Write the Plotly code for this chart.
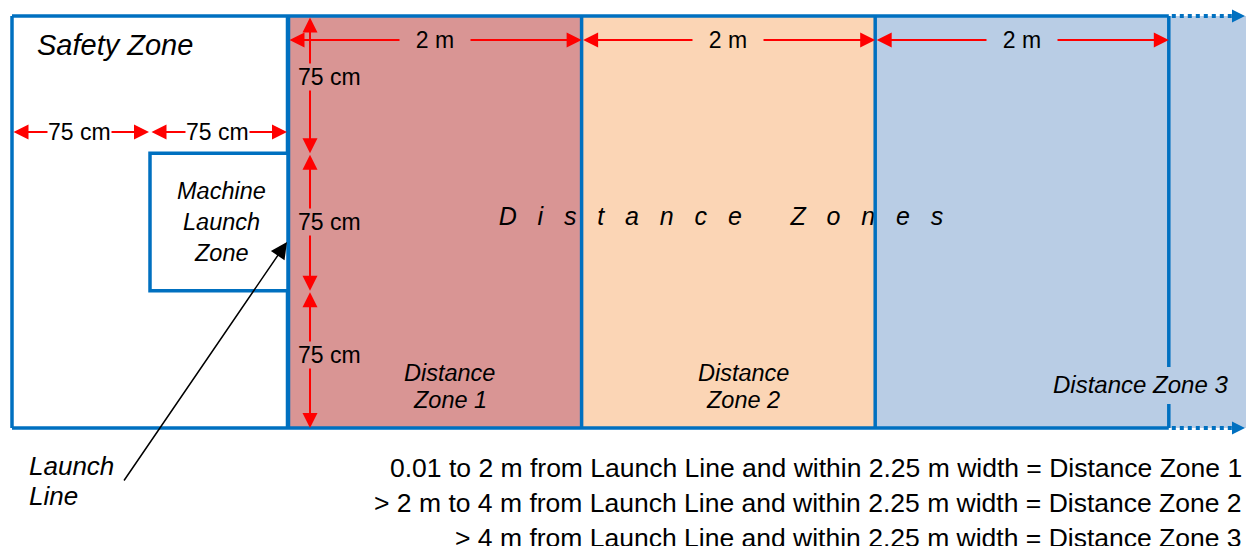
import plotly.graph_objects as go

# ---------------- data ----------------
zone_label_lines = [["Distance", "Zone 1"], ["Distance", "Zone 2"], ["Distance Zone 3"]]
zone_start_m = [0, 2, 4]
zone_length_m = [2, 2, 2]
zone_dim_labels = ["2 m", "2 m", "2 m"]
safety_segments_cm = [75, 75]
safety_dim_labels = ["75 cm", "75 cm"]
lane_segments_cm = [75, 75, 75]
lane_dim_labels = ["75 cm", "75 cm", "75 cm"]
machine_zone_lines = ["Machine", "Launch", "Zone"]
launch_line_lines = ["Launch", "Line"]
title_safety = "Safety Zone"
title_distance = "Distance Zones"
rules = [
    "0.01 to 2 m from Launch Line and within 2.25 m width = Distance Zone 1",
    "> 2 m to 4 m from Launch Line and within 2.25 m width = Distance Zone 2",
    "> 4 m from Launch Line and within 2.25 m width = Distance Zone 3",
]

# ---------------- style / layout ----------------
W, H = 1246, 546
LEFT, LAUNCH, TOP = 12, 288, 16
PX_M = 146.8                                   # px per metre along distance
PX_CM_SAFE = (LAUNCH - LEFT) / sum(safety_segments_cm)
PX_CM_V = 1.831                                # px per cm across width
FONT = "Liberation Sans, Arial, sans-serif"
BLUE = "#0070C0"
RED = "#FF0000"
ZONE_COLORS = ["#D99594", "#FBD5B5", "#B9CDE5"]
BW = 3.5


def xd(m):
    return LAUNCH + m * PX_M


def xs(cm):
    return LEFT + cm * PX_CM_SAFE


def yv(cm):
    return TOP + cm * PX_CM_V


BOTTOM = yv(sum(lane_segments_cm))
END_X = xd(zone_start_m[-1] + zone_length_m[-1])

shapes = []
annotations = []

# zone fills
for i, (s, l) in enumerate(zip(zone_start_m, zone_length_m)):
    x1 = xd(s + l) if i < len(zone_start_m) - 1 else W
    shapes.append(dict(type="rect", xref="x", yref="y", x0=xd(s), x1=x1, y0=TOP, y1=BOTTOM,
                       fillcolor=ZONE_COLORS[i], line=dict(width=0), layer="below"))


def bline(x0, y0, x1, y1, width=BW, dash="solid"):
    shapes.append(dict(type="line", xref="x", yref="y", x0=x0, y0=y0, x1=x1, y1=y1,
                       line=dict(color=BLUE, width=width, dash=dash), layer="above"))


# outer frame
bline(LEFT, TOP, END_X, TOP)
bline(LEFT, BOTTOM, END_X, BOTTOM)
bline(LEFT, TOP, LEFT, BOTTOM)
bline(LAUNCH, TOP, LAUNCH, BOTTOM, width=4.5)
for s, l in zip(zone_start_m[:-1], zone_length_m[:-1]):
    bline(xd(s + l), TOP, xd(s + l), BOTTOM)
# last boundary with gap for label
bline(END_X, TOP, END_X, 367)
bline(END_X, 404, END_X, BOTTOM)
# dotted extensions
for y in (TOP, BOTTOM):
    bline(END_X + 3, y, W - 9, y, width=4, dash="dot")
    annotations.append(dict(x=W - 1, y=y, ax=W - 9, ay=y, xref="x", yref="y", axref="x", ayref="y",
                            text="", showarrow=True, arrowhead=2, arrowsize=2.6, arrowwidth=1,
                            arrowcolor=BLUE))

# machine launch zone box
shapes.append(dict(type="rect", xref="x", yref="y",
                   x0=xs(safety_segments_cm[0]), x1=LAUNCH,
                   y0=yv(lane_segments_cm[0]), y1=yv(lane_segments_cm[0] + lane_segments_cm[1]),
                   fillcolor="white", line=dict(color=BLUE, width=BW), layer="above"))


def dim_arrow(x0, y0, x1, y1):
    annotations.append(dict(x=x1, y=y1, ax=x0, ay=y0, xref="x", yref="y", axref="x", ayref="y",
                            text="", showarrow=True, arrowhead=2, startarrowhead=2,
                            arrowside="end+start", arrowsize=1.5, startarrowsize=1.5,
                            arrowwidth=2, arrowcolor=RED))


def label(x, y, text, size, bg=None, italic=False, xanchor="center", width=None):
    t = f"<i>{text}</i>" if italic else text
    d = dict(x=x, y=y, xref="x", yref="y", text=t, showarrow=False, xanchor=xanchor,
             yanchor="middle", font=dict(family=FONT, size=size, color="black"), borderpad=0)
    if bg:
        d["bgcolor"] = bg
    if width:
        d["width"] = width
    annotations.append(d)


# zone length dimensions
ZONE_DIM_Y = 40
for i, (s, l) in enumerate(zip(zone_start_m, zone_length_m)):
    dim_arrow(xd(s), ZONE_DIM_Y, xd(s + l), ZONE_DIM_Y)
    label((xd(s) + xd(s + l)) / 2, ZONE_DIM_Y, zone_dim_labels[i], 23, bg=ZONE_COLORS[i], width=70)

# safety zone dimensions
SAFE_DIM_Y = 132
acc = 0
for i, seg in enumerate(safety_segments_cm):
    x0, x1 = xs(acc), xs(acc + seg)
    dim_arrow(x0, SAFE_DIM_Y, x1 - 1, SAFE_DIM_Y)
    label((x0 + x1) / 2 - 2, SAFE_DIM_Y, safety_dim_labels[i], 23, bg="white")
    acc += seg

# lane width dimensions
LANE_DIM_X = 310
acc = 0
lane_label_shift = [-8, 0, -4]
for i, seg in enumerate(lane_segments_cm):
    y0, y1 = yv(acc), yv(acc + seg)
    dim_arrow(LANE_DIM_X, y0, LANE_DIM_X, y1)
    label(LANE_DIM_X - 13, (y0 + y1) / 2 + lane_label_shift[i], lane_dim_labels[i], 23,
          bg=ZONE_COLORS[0], xanchor="left")
    acc += seg

# zone labels
for i, lines in enumerate(zone_label_lines):
    if len(lines) == 2:
        cx = (xd(zone_start_m[i]) + xd(zone_start_m[i] + zone_length_m[i])) / 2 + 15
        label(cx, 373, lines[0], 23.5, italic=True)
        label(cx, 400, lines[1], 23.5, italic=True)
    else:
        label(W - 17, 384, lines[0], 24, italic=True, xanchor="right")

# machine launch zone text
mx = (xs(safety_segments_cm[0]) + LAUNCH) / 2 + 2
for j, t in enumerate(machine_zone_lines):
    label(mx, 191 + 31 * j, t, 23.5, italic=True)

# safety zone title
label(36, 45, title_safety, 29, italic=True, xanchor="left")

# launch line pointer
annotations.append(dict(x=LAUNCH - 1, y=242, ax=123, ay=482, xref="x", yref="y", axref="x",
                        ayref="y", text="", showarrow=True, arrowhead=2, arrowsize=2.2,
                        arrowwidth=1.5, arrowcolor="black"))
for j, t in enumerate(launch_line_lines):
    label(28, 466 + 30 * j, t, 26, italic=True, xanchor="left")

# rules
for j, t in enumerate(rules):
    label(W - 3, 468 + 35 * j, t, 26.5, xanchor="right")

# distance zones title (drawn under boundary lines)
spaced = ("\u00a0" * 7).join("\u00a0\u00a0\u00a0".join(list(w)) for w in title_distance.split(" "))
fig = go.Figure()
fig.add_trace(go.Scatter(x=[721], y=[219], mode="text", text=[f"<i>{spaced}</i>"],
                         textposition="middle center",
                         textfont=dict(family=FONT, size=25, color="black"),
                         hoverinfo="skip", showlegend=False))

fig.update_layout(
    width=W, height=H, margin=dict(l=0, r=0, t=0, b=0),
    paper_bgcolor="white", plot_bgcolor="white",
    xaxis=dict(range=[0, W], visible=False, fixedrange=True),
    yaxis=dict(range=[H, 0], visible=False, fixedrange=True),
    shapes=shapes, annotations=annotations, showlegend=False,
)
fig.write_html("out.html", config={"displayModeBar": False, "staticPlot": True},
               post_script="document.body.style.margin='0px';document.body.style.overflow='hidden';")
